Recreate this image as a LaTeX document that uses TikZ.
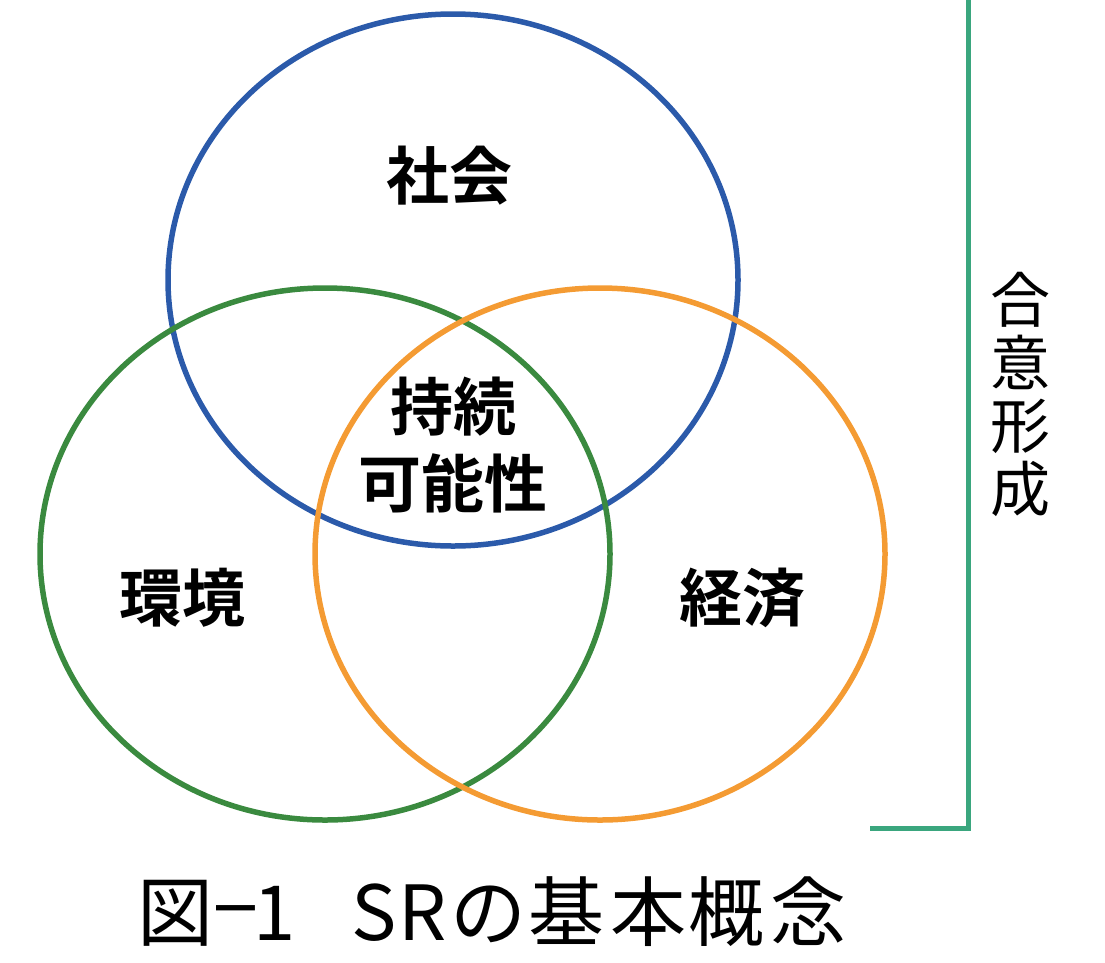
\documentclass[tikz,border=0pt]{standalone}
\usepackage{fontspec}
\newfontfamily\jpfont{Noto Sans CJK JP}
\newfontfamily\jpbold{Noto Sans CJK JP Bold}
\definecolor{socblue}{HTML}{2B5AAA}
\definecolor{envgreen}{HTML}{3A8A3F}
\definecolor{ecoorange}{HTML}{F49B33}
\definecolor{bracketteal}{HTML}{3AA67E}
\newcommand{\tch}[1]{\makebox[0pt][c]{#1}}
\tikzset{
  ring/.style={line width=5.5pt},
  lbl/.style={font=\jpbold\fontsize{63}{77}\selectfont, inner sep=0pt, align=center},
  vtext/.style={font=\jpfont\fontsize{60}{63}\selectfont, inner sep=0pt, align=center},
}
\begin{document}
\begin{tikzpicture}[x=1pt,y=-1pt]
\useasboundingbox (0,0) rectangle (1105,962);
\draw[ring, socblue] (453,280) ellipse [x radius=285pt, y radius=266pt];
\draw[ring, envgreen] (325,554) ellipse [x radius=285pt, y radius=266pt];
\draw[ring, ecoorange] (600,554) ellipse [x radius=285pt, y radius=266pt];
\node[lbl] (soc) at (449,176) {社会};
\node[lbl] (sus) at (453,445) {持続\\可能性};
\node[lbl] (env) at (182,598) {環境};
\node[lbl] (eco) at (742,598) {経済};
\coordinate (btop) at (968,-5);
\coordinate (bcorner) at (968,828);
\coordinate (bend) at (870,828);
\draw[line width=5pt, bracketteal, miter limit=10] (btop) -- (bcorner) -- (bend);
\node[vtext] (cons) at (1020,394) {合\\意\\形\\成};
\node[inner sep=0pt, anchor=base west, font=\jpfont\fontsize{76}{80}\selectfont] (title) at (175.5,940)
  {\tch{図}\hspace{60pt}\tch{\raisebox{11pt}{\scalebox{2}[1]{-}}}\hspace{38.5pt}\tch{1}\hspace{100pt}\tch{S}\hspace{48.5pt}\tch{R}\hspace{66pt}\tch{の}\hspace{78pt}\tch{基}\hspace{81.5pt}\tch{本}\hspace{78.5pt}\tch{概}\hspace{81.5pt}\tch{念}};
\end{tikzpicture}
\end{document}
